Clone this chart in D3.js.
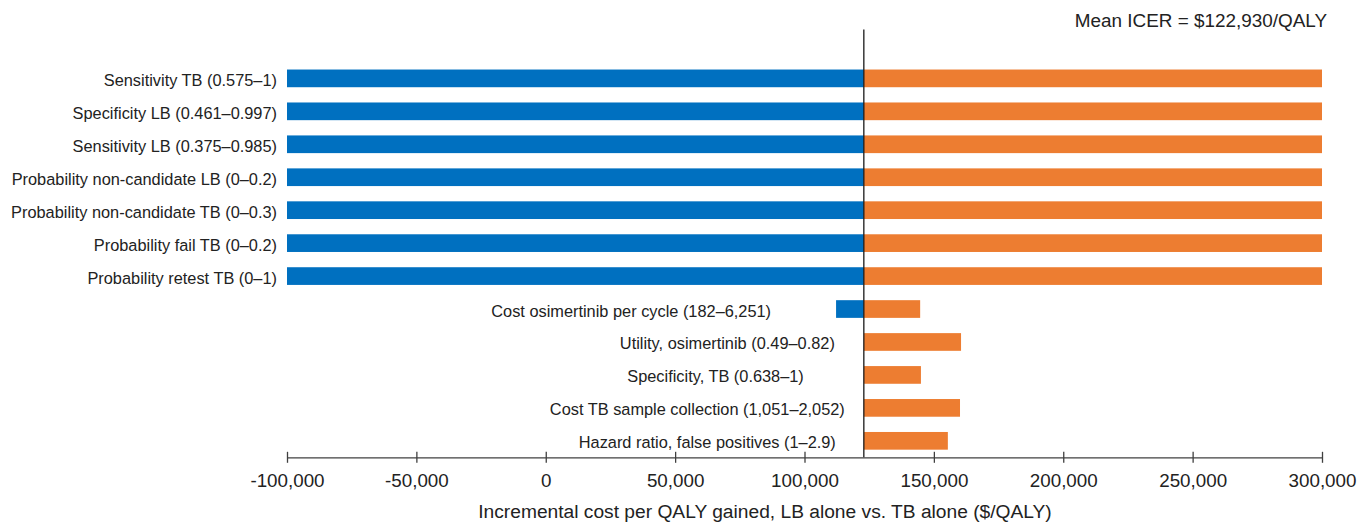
<!DOCTYPE html>
<html>
<head>
<meta charset="utf-8">
<script src="https://cdn.jsdelivr.net/npm/d3@7"></script>
<style>
  html, body { margin: 0; padding: 0; background: #fff; }
  svg { display: block; font-family: "Liberation Sans", Arial, sans-serif; }
</style>
</head>
<body>
<svg id="chart" width="1370" height="524"></svg>
<script>
// Tornado diagram: one-way sensitivity of the ICER, LB alone vs. TB alone
const parameters = [
  "Sensitivity TB (0.575–1)",
  "Specificity LB (0.461–0.997)",
  "Sensitivity LB (0.375–0.985)",
  "Probability non-candidate LB (0–0.2)",
  "Probability non-candidate TB (0–0.3)",
  "Probability fail TB (0–0.2)",
  "Probability retest TB (0–1)",
  "Cost osimertinib per cycle (182–6,251)",
  "Utility, osimertinib (0.49–0.82)",
  "Specificity, TB (0.638–1)",
  "Cost TB sample collection (1,051–2,052)",
  "Hazard ratio, false positives (1–2.9)"
];
// ICER at the low and high end of each parameter range ($/QALY)
const lowValues  = [-100000, -100000, -100000, -100000, -100000, -100000, -100000,
                    112200, 122930, 122930, 122930, 122930];
const highValues = [300000, 300000, 300000, 300000, 300000, 300000, 300000,
                    144700, 160500, 145000, 160100, 155400];
const baseICER = 122930;
const xTicks = [-100000, -50000, 0, 50000, 100000, 150000, 200000, 250000, 300000];
const titleText = "Mean ICER = $122,930/QALY";
const axisTitle = "Incremental cost per QALY gained, LB alone vs. TB alone ($/QALY)";

// label placement: gap (px) between a label's right end and its row's leftmost bar
const labelGap = [10, 10, 10, 10, 10, 10, 10, 65, 29, 60, 19, 28];

const svg = d3.select("#chart");
const blue = "#0070C0", orange = "#ED7D31", ink = "#222222";

const x = d3.scaleLinear().domain([-100000, 300000]).range([287, 1322]);
const y = d3.scaleBand().domain(parameters).range([61.9, 457.3])
  .paddingInner(0.463).paddingOuter(0.2315);

const rows = parameters.map((p, i) => ({ p, lo: lowValues[i], hi: highValues[i], gap: labelGap[i] }));

// low side (blue, left of base)
svg.append("g").selectAll("rect").data(rows.filter(d => d.lo < baseICER)).join("rect")
  .attr("x", d => x(d.lo)).attr("y", d => y(d.p))
  .attr("width", d => x(baseICER) - x(d.lo)).attr("height", y.bandwidth())
  .attr("fill", blue);

// high side (orange, right of base)
svg.append("g").selectAll("rect").data(rows.filter(d => d.hi > baseICER)).join("rect")
  .attr("x", x(baseICER)).attr("y", d => y(d.p))
  .attr("width", d => x(d.hi) - x(baseICER)).attr("height", y.bandwidth())
  .attr("fill", orange);

// parameter labels
svg.append("g").selectAll("text").data(rows).join("text")
  .attr("x", d => Math.min(x(d.lo), x(baseICER)) - d.gap)
  .attr("y", d => y(d.p) + y.bandwidth() / 2 + 7.5)
  .attr("text-anchor", "end")
  .attr("font-size", "16.35px")
  .attr("fill", ink)
  .text(d => d.p);

// x axis with crossing ticks
const axisY = 457.3;
const axis = svg.append("g").attr("transform", `translate(0,${axisY})`)
  .call(d3.axisBottom(x).tickValues(xTicks).tickSize(0).tickPadding(0)
    .tickFormat(d3.format(",")));
axis.select(".domain").attr("stroke", "#404040").attr("stroke-width", 1.3);
axis.selectAll(".tick line").attr("y1", -5.5).attr("y2", 5.5)
  .attr("stroke", "#404040").attr("stroke-width", 1.3);
axis.selectAll(".tick text")
  .attr("y", 30).attr("dy", null)
  .attr("font-size", "18.8px").attr("font-family", "Liberation Sans, Arial, sans-serif")
  .attr("fill", ink)
  .text(d => d < 0 ? "-" + d3.format(",")(-d) : d3.format(",")(d));

// base-case line
svg.append("line")
  .attr("x1", x(baseICER)).attr("x2", x(baseICER))
  .attr("y1", 29.5).attr("y2", axisY)
  .attr("stroke", "#1a1a1a").attr("stroke-width", 1.3);

// titles
svg.append("text").attr("x", 1327).attr("y", 27)
  .attr("text-anchor", "end").attr("font-size", "18.9px").attr("fill", ink)
  .text(titleText);

svg.append("text").attr("x", 765).attr("y", 518)
  .attr("text-anchor", "middle").attr("font-size", "19.2px").attr("fill", ink)
  .text(axisTitle);
</script>
</body>
</html>
